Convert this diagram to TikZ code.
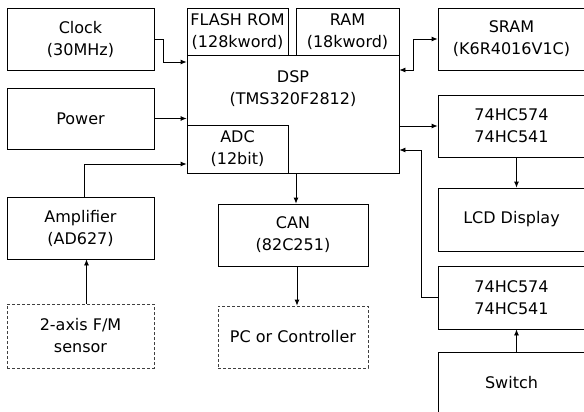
\documentclass[tikz,border=0pt]{standalone}
\usepackage{fontspec}
\setmainfont{DejaVu Sans}
\usetikzlibrary{arrows.meta}
\tikzset{
  blk/.style={draw, line width=0.8pt, align=center, inner sep=0pt,
    font=\fontsize{16}{22}\selectfont},
  blkdash/.style={blk, dash pattern=on 3pt off 2pt, draw=black!75},
  conn/.style={line width=0.8pt, -{Latex[length=6pt,width=5pt]}},
  conn2/.style={line width=0.8pt, {Latex[length=6pt,width=5pt]}-{Latex[length=6pt,width=5pt]}}
}

\begin{document}
\begin{tikzpicture}[x=1pt,y=-1pt]
			%%%%% FRAME %%%%%
			\useasboundingbox (0,0) rectangle (584,412);
			\clip (0,0) rectangle (584,412);
			
			%%%%% LEFT %%%%%
			\node[blk, minimum width=147, minimum height=62] (clock) at (80.5,39) {Clock\\(30MHz)};
			\node[blk, minimum width=147, minimum height=61] (power) at (80.5,118.5) {Power};
			\node[blk, minimum width=147, minimum height=62] (amp) at (80.5,228) {Amplifier\\(AD627)};
			\node[blkdash, minimum width=147, minimum height=64] (sensor) at (80.5,336) {2-axis F/M\\sensor};
			
			%%%%% DSP %%%%%
			\node[blk, minimum width=101, minimum height=47] (flash) at (237.5,31.5) {FLASH ROM\\(128kword)};
			\node[blk, minimum width=103, minimum height=47] (ram) at (347.5,31.5) {RAM\\(18kword)};
			\node[blk, minimum width=212, minimum height=118] (dsp) at (293,114) {};
			\node[font=\fontsize{16}{22}\selectfont, align=center, inner sep=0pt] (dsplbl) at (293,89) {DSP\\(TMS320F2812)};
			\node[blk, minimum width=101, minimum height=48] (adc) at (237.5,149) {ADC\\(12bit)};
			\node[blk, minimum width=150, minimum height=62] (can) at (293,235) {CAN\\(82C251)};
			\node[blkdash, minimum width=150, minimum height=62] (pc) at (293,337) {PC or Controller};
			
			%%%%% RIGHT %%%%%
			\node[blk, minimum width=147, minimum height=62] (sram) at (511.5,39) {SRAM\\(K6R4016V1C)};
			\node[blk, minimum width=147, minimum height=62] (latch1) at (511.5,126) {74HC574\\74HC541};
			\node[blk, minimum width=147, minimum height=63] (lcd) at (511.5,219.5) {LCD Display};
			\node[blk, minimum width=147, minimum height=63] (latch2) at (511.5,297.5) {74HC574\\74HC541};
			\node[blk, minimum width=147, minimum height=62] (switch) at (511.5,383) {Switch};
			
			%%%%% LINES %%%%%
			\draw[conn] (clock.east) -- ++(9,0) |- (dsp.west |- 0,62);
			\draw[conn] (power.east) -- (power.east -| dsp.west);
			\draw[conn] ([xshift=4]amp.north) |- (adc.west |- 0,164);
			\draw[conn] ([xshift=6]sensor.north) -- ([xshift=6]amp.south);
			\draw[conn] ([xshift=3]dsp.south) -- ([xshift=3]can.north);
			\draw[conn] ([xshift=4]can.south) -- ([xshift=4]pc.north);
			\draw[conn2] (dsp.east |- 0,70) -| ([xshift=-24]sram.west) -- (sram.west);
			\draw[conn] (dsp.east |- latch1.west) -- (latch1.west);
			\draw[conn] ([xshift=5]latch1.south) -- ([xshift=5]lcd.north);
			\draw[conn] (latch2.west) -- ++(-16,0) |- (dsp.east |- 0,150);
			\draw[conn] ([xshift=5]switch.north) -- ([xshift=5]latch2.south);
			
			%%%%% END %%%%%
\end{tikzpicture}
\end{document}
